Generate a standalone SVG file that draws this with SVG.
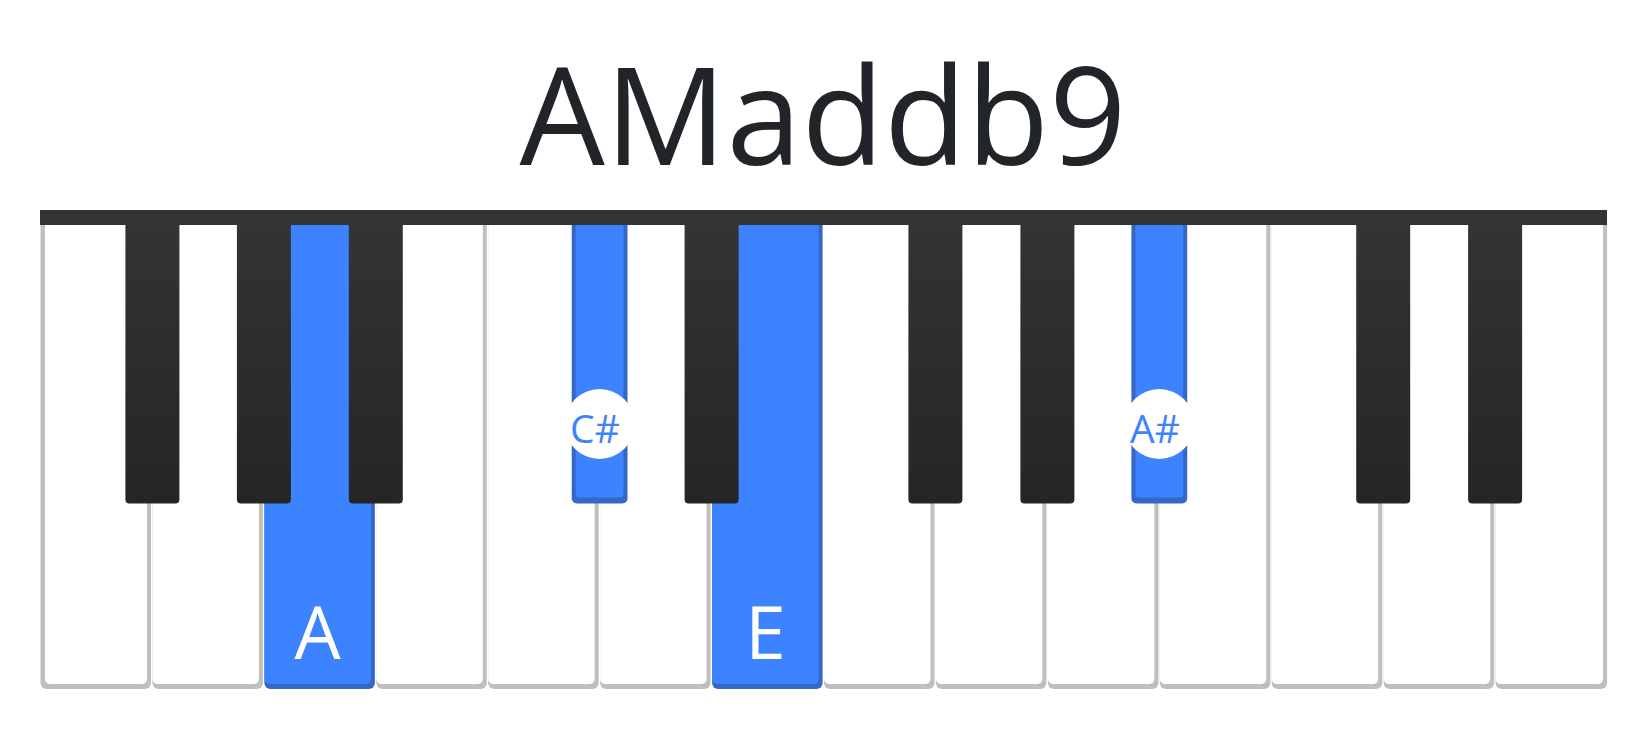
<svg xmlns="http://www.w3.org/2000/svg" width="1650" height="740" viewBox="0 0 1650 740">
<defs>
<linearGradient id="blk" x1="0" y1="0" x2="0" y2="1">
<stop offset="0" stop-color="#343434"/>
<stop offset="1" stop-color="#252525"/>
</linearGradient>
<style>
.wo{fill:#bfbfbf}
.wi{fill:#ffffff}
.bo{fill:#3567c9}
.bi{fill:#3d82fe}
.bk{fill:url(#blk)}
.title{font-family:"Open Sans","Noto Sans","Liberation Sans",sans-serif;font-size:135px;fill:#212529;text-anchor:middle}
.wl{font-family:"Open Sans","Noto Sans","Liberation Sans",sans-serif;font-size:73px;fill:#ffffff;text-anchor:middle}
.bl{font-family:"Open Sans","Noto Sans","Liberation Sans",sans-serif;font-size:39px;fill:#3d82fe;text-anchor:middle}
</style>
</defs>
<rect width="1650" height="740" fill="#ffffff"/>
<text class="title" x="823" y="165">AMaddb9</text>

<g id="white-keys">
<g id="w0"><rect class="wo" x="40.5" y="212" width="110.5" height="477" rx="6"/><rect class="wi" x="45" y="212" width="102" height="472" rx="5"/></g>
<g id="w1"><rect class="wo" x="152.4" y="212" width="110.5" height="477" rx="6"/><rect class="wi" x="152.4" y="212" width="106.5" height="472" rx="5"/></g>
<g id="w2-A"><rect class="bo" x="264.4" y="212" width="110.5" height="477" rx="6"/><rect class="bi" x="264.4" y="212" width="106.5" height="472" rx="5"/><text class="wl" x="317.5" y="659">A</text></g>
<g id="w3"><rect class="wo" x="376.3" y="212" width="110.5" height="477" rx="6"/><rect class="wi" x="376.3" y="212" width="106.5" height="472" rx="5"/></g>
<g id="w4"><rect class="wo" x="488.2" y="212" width="110.5" height="477" rx="6"/><rect class="wi" x="488.2" y="212" width="106.5" height="472" rx="5"/></g>
<g id="w5"><rect class="wo" x="600.1" y="212" width="110.5" height="477" rx="6"/><rect class="wi" x="600.1" y="212" width="106.5" height="472" rx="5"/></g>
<g id="w6-E"><rect class="bo" x="712.1" y="212" width="110.5" height="477" rx="6"/><rect class="bi" x="712.1" y="212" width="106.5" height="472" rx="5"/><text class="wl" x="765.5" y="659">E</text></g>
<g id="w7"><rect class="wo" x="824" y="212" width="110.5" height="477" rx="6"/><rect class="wi" x="824" y="212" width="106.5" height="472" rx="5"/></g>
<g id="w8"><rect class="wo" x="935.9" y="212" width="110.5" height="477" rx="6"/><rect class="wi" x="935.9" y="212" width="106.5" height="472" rx="5"/></g>
<g id="w9"><rect class="wo" x="1047.9" y="212" width="110.5" height="477" rx="6"/><rect class="wi" x="1047.9" y="212" width="106.5" height="472" rx="5"/></g>
<g id="w10"><rect class="wo" x="1159.8" y="212" width="110.5" height="477" rx="6"/><rect class="wi" x="1159.8" y="212" width="106.5" height="472" rx="5"/></g>
<g id="w11"><rect class="wo" x="1271.7" y="212" width="110.5" height="477" rx="6"/><rect class="wi" x="1271.7" y="212" width="106.5" height="472" rx="5"/></g>
<g id="w12"><rect class="wo" x="1383.7" y="212" width="110.5" height="477" rx="6"/><rect class="wi" x="1383.7" y="212" width="106.5" height="472" rx="5"/></g>
<g id="w13"><rect class="wo" x="1495.6" y="212" width="111.5" height="477" rx="6"/><rect class="wi" x="1495.6" y="212" width="107.5" height="472" rx="5"/></g>
</g>

<g id="black-keys">
<g id="b1"><rect class="bk" x="125.4" y="214" width="54" height="289.5" rx="4"/></g>
<g id="b2"><rect class="bk" x="236.9" y="214" width="54" height="289.5" rx="4"/></g>
<g id="b3"><rect class="bk" x="348.8" y="214" width="54" height="289.5" rx="4"/></g>
<g id="b5-Csharp"><rect class="bo" x="571.7" y="214" width="55.8" height="289.5" rx="5"/><rect class="bi" x="575.7" y="214" width="47.8" height="283.5" rx="4"/></g>
<g id="b6"><rect class="bk" x="684.6" y="214" width="54" height="289.5" rx="4"/></g>
<g id="b8"><rect class="bk" x="908.4" y="214" width="54" height="289.5" rx="4"/></g>
<g id="b9"><rect class="bk" x="1020.4" y="214" width="54" height="289.5" rx="4"/></g>
<g id="b10-Asharp"><rect class="bo" x="1131.4" y="214" width="55.8" height="289.5" rx="5"/><rect class="bi" x="1135.4" y="214" width="47.8" height="283.5" rx="4"/></g>
<g id="b12"><rect class="bk" x="1356.2" y="214" width="54" height="289.5" rx="4"/></g>
<g id="b13"><rect class="bk" x="1468.1" y="214" width="54" height="289.5" rx="4"/></g>
</g>

<rect id="bar" x="40" y="210" width="1567" height="15" fill="#333333"/>

<g id="label-Csharp"><circle cx="599.6" cy="424" r="35" fill="#ffffff"/><text class="bl" x="595" y="443">C#</text></g>
<g id="label-Asharp"><circle cx="1159.3" cy="424" r="35" fill="#ffffff"/><text class="bl" x="1155" y="443">A#</text></g>
<g id="connectors"/>
</svg>
